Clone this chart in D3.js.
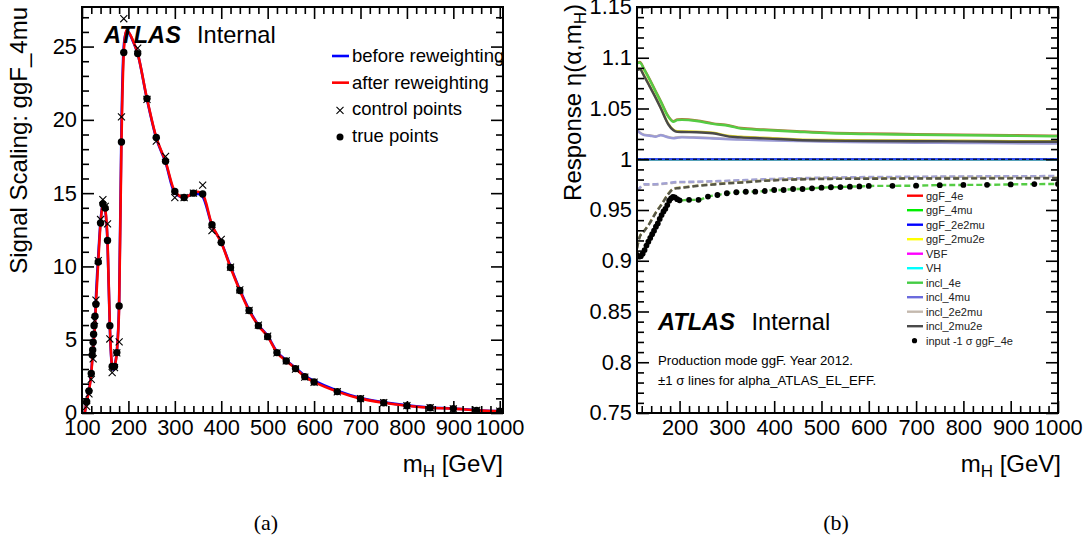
<!DOCTYPE html>
<html>
<head>
<meta charset="utf-8">
<script src="https://cdn.jsdelivr.net/npm/d3@7"></script>
<style>
  body { margin: 0; background: #fff; }
  svg { display: block; }
  text { font-family: "Liberation Sans", Arial, Helvetica, sans-serif; fill: #000; }
  text.serif { font-family: "Liberation Serif", "DejaVu Serif", serif; }
</style>
</head>
<body>
<svg id="fig" width="1092" height="546"></svg>
<script>
// ---------------- panel (a): signal scaling, ggF_4mu ----------------
const curveMass = [106,110,115,120,123,125,128,130,135,140,145,147,150,155,160,165,167.5,170,175,180,185,190,195,200,210,220,240,260,280,300,320,340,350,360,380,400,420,440,460,480,500,520,540,560,580,600,650,700,750,800,850,900,950,1000];
const afterReweighting = [0,0.77,1.5,2.7,4.0,4.85,6.0,7.42,10.3,12.96,14.26,14.4,13.98,11.77,5.96,3.17,3.0,3.17,4.12,7.3,18.49,24.6,26.1,26.0,25.4,24.52,21.45,18.8,17.17,15.12,14.7,15.0,15.1,14.94,12.84,11.63,9.93,8.36,6.99,5.96,5.21,4.12,3.55,3.03,2.48,2.12,1.46,0.98,0.70,0.50,0.36,0.30,0.18,0.12];
const beforeReweighting = [0,0.8,1.55,2.8,4.1,4.95,6.2,7.8,10.7,13.1,14.3,14.35,13.9,11.6,5.8,3.1,2.95,3.2,4.2,7.6,19.4,25.0,26.0,25.95,25.35,24.5,21.4,18.75,17.1,15.0,14.7,14.95,14.95,14.75,12.8,11.65,10.0,8.42,7.05,6.0,5.25,4.18,3.6,3.08,2.54,2.2,1.52,1.02,0.73,0.52,0.38,0.31,0.19,0.13];

const controlMass = [110,115,120,124,127,130,135,140,145,150,155,160,165,170,175,180,185,190,220,240,260,280,300,320,340,360,380,400,420,440,460,480,500,520,540,560,580,600,650,700,750,800,850,900,950,1000];
const controlValues = [0.45,1.3,2.3,3.7,6.3,7.7,10.4,13.2,14.55,14.1,12.9,5.05,2.75,3.1,4.1,4.85,20.2,26.9,24.9,21.4,18.55,17.5,14.7,14.7,15.0,15.55,12.45,11.85,9.95,8.4,7.0,6.0,5.25,4.1,3.55,3.0,2.45,2.1,1.45,0.98,0.7,0.5,0.36,0.28,0.18,0.12];

const trueMass = [110,115,120,122,123,124,125,126,128,130,135,140,145,150,155,160,165,170,175,180,185,190,220,240,260,280,300,320,340,360,380,400,420,440,460,480,500,520,540,560,580,600,650,700,750,800,850,900,950,1000];
const trueValues = [0.77,1.5,2.7,3.96,4.3,4.83,5.37,5.96,6.6,7.42,10.3,12.96,14.26,13.98,11.77,5.96,3.17,3.17,4.12,7.3,18.49,24.6,24.52,21.45,18.8,17.17,15.12,14.7,15.0,14.94,12.84,11.63,9.93,8.36,6.99,5.96,5.21,4.12,3.55,3.03,2.48,2.12,1.46,0.98,0.70,0.50,0.36,0.30,0.18,0.12];

const aXTicks = [100,200,300,400,500,600,700,800,900,1000];
const aYTicks = [0,5,10,15,20,25];
const aLegend = ["before reweighting","after reweighting","control points","true points"];

// ---------------- panel (b): response eta(alpha, mH) ----------------
const respMass = [110,116,125,137,150,160,176,187,195,205,236,270,305,330,377,448,518,600,700,800,900,1000];
const ggF4eUp      = [1.0951,1.0958,1.0891,1.0787,1.0666,1.0576,1.0426,1.0376,1.0391,1.0394,1.0383,1.0354,1.0334,1.0308,1.0294,1.0277,1.0262,1.0254,1.0248,1.0243,1.0237,1.0232];
const incl4eUp     = [1.0945,1.0952,1.0885,1.0781,1.0660,1.0570,1.0420,1.0370,1.0385,1.0388,1.0377,1.0348,1.0328,1.0302,1.0288,1.0271,1.0256,1.0248,1.0242,1.0237,1.0231,1.0226];
const ggF2mu2eUp   = [1.0885,1.0892,1.0826,1.0721,1.0606,1.0511,1.0351,1.0291,1.0276,1.0274,1.0272,1.0262,1.0229,1.0221,1.0212,1.0196,1.0189,1.0186,1.0184,1.0182,1.0179,1.0178];
const incl2mu2eUp  = [1.0879,1.0886,1.0820,1.0715,1.0600,1.0505,1.0345,1.0285,1.0270,1.0268,1.0266,1.0256,1.0223,1.0215,1.0206,1.0190,1.0183,1.0180,1.0178,1.0176,1.0173,1.0172];
const incl2e2muUp  = [1.0292,1.0264,1.0242,1.0236,1.0226,1.0240,1.0219,1.0211,1.0216,1.0220,1.0216,1.0209,1.0201,1.0197,1.0191,1.0184,1.0177,1.0172,1.0167,1.0164,1.0161,1.0159];
const incl4muUp    = [1.0288,1.0260,1.0238,1.0232,1.0222,1.0236,1.0215,1.0207,1.0212,1.0216,1.0212,1.0205,1.0197,1.0193,1.0187,1.0180,1.0173,1.0168,1.0163,1.0160,1.0157,1.0155];
const incl2e2muDown= [0.9686,0.9716,0.9749,0.9749,0.9750,0.9754,0.9762,0.9769,0.9772,0.9773,0.9775,0.9780,0.9785,0.9790,0.9799,0.9809,0.9816,0.9821,0.9824,0.9827,0.9829,0.9831];
const incl4muDown  = [0.9690,0.9720,0.9753,0.9753,0.9754,0.9758,0.9766,0.9773,0.9776,0.9777,0.9779,0.9784,0.9789,0.9794,0.9803,0.9813,0.9820,0.9825,0.9828,0.9831,0.9833,0.9835];
const ggF2mu2eDown = [0.9124,0.9241,0.9294,0.9374,0.9479,0.9544,0.9659,0.9711,0.9718,0.9723,0.9740,0.9754,0.9767,0.9774,0.9790,0.9804,0.9810,0.9812,0.9814,0.9815,0.9816,0.9817];
const incl2mu2eDown= [0.9120,0.9237,0.9290,0.9370,0.9475,0.9540,0.9655,0.9707,0.9714,0.9719,0.9736,0.9750,0.9763,0.9770,0.9786,0.9800,0.9806,0.9808,0.9810,0.9811,0.9812,0.9813];
const nominalMass  = [110,1000];
const nominalValue = [1.0,1.0];

// -1 sigma input points for ggF_4e
const inputMass = [110,114,118,122,126,130,134,138,142,146,150,154,158,162,166,170,174,178,182,186,190,195,200,220,240,260,280,300,320,340,360,380,400,420,440,460,480,500,520,540,560,580,600,650,700,750,800,850,900,950,1000];
const inputDown = [0.9057,0.904,0.9045,0.907,0.9105,0.915,0.9188,0.9225,0.9262,0.9296,0.9336,0.9367,0.9412,0.945,0.9486,0.9512,0.9549,0.9592,0.9615,0.963,0.9625,0.9607,0.9595,0.96,0.96,0.9632,0.9648,0.9665,0.9675,0.968,0.9681,0.9687,0.9697,0.9697,0.9707,0.9707,0.9714,0.972,0.9724,0.9726,0.973,0.9732,0.9737,0.9738,0.974,0.9745,0.9747,0.9748,0.9752,0.9755,0.9756];

const bXTicks = [200,300,400,500,600,700,800,900,1000];
const bYTicks = [0.75,0.8,0.85,0.9,0.95,1.0,1.05,1.1,1.15];
const bYTickLabels = ["0.75","0.8","0.85","0.9","0.95","1","1.05","1.1","1.15"];
const bLegendNames  = ["ggF_4e","ggF_4mu","ggF_2e2mu","ggF_2mu2e","VBF","VH","incl_4e","incl_4mu","incl_2e2mu","incl_2mu2e"];
const bLegendColors = ["#ff0000","#00ee00","#0000ff","#ffff00","#ff00ff","#00ffff","#44cc44","#6b6bdd","#c4b9ae","#4a4a4a"];
const bInputLabel = "input -1 σ ggF_4e";

const svg = d3.select("#fig");

// frame with inward ticks on all four sides, labels on bottom and left
function drawFrame(g, x, y, xMajor, xMinor, yMajor, yMinor, yFmt) {
  const [x0, x1] = x.range();
  const [yb, yt] = y.range();
  const styleTicks = (sel, labels) => {
    sel.select(".domain").remove();
    sel.selectAll(".tick line").attr("stroke", "#000").attr("stroke-width", 1.6);
    sel.selectAll(".tick text").attr("font-size", 21.8).attr("fill", "#000");
    if (!labels) sel.selectAll(".tick text").remove();
  };
  const add = (axis, t, labels) => g.append("g").attr("transform", t).call(axis).call(s => styleTicks(s, labels));
  // bottom
  add(d3.axisBottom(x).tickValues(xMajor).tickSize(-12).tickPadding(7).tickFormat(d3.format("d")), `translate(0,${yb})`, true);
  add(d3.axisBottom(x).tickValues(xMinor).tickSize(-7).tickFormat(""), `translate(0,${yb})`, false);
  // top
  add(d3.axisTop(x).tickValues(xMajor).tickSize(-12).tickFormat(""), `translate(0,${yt})`, false);
  add(d3.axisTop(x).tickValues(xMinor).tickSize(-7).tickFormat(""), `translate(0,${yt})`, false);
  // left
  add(d3.axisLeft(y).tickValues(yMajor).tickSize(-12).tickPadding(5).tickFormat(yFmt), `translate(${x0},0)`, true);
  add(d3.axisLeft(y).tickValues(yMinor).tickSize(-7).tickFormat(""), `translate(${x0},0)`, false);
  // right
  add(d3.axisRight(y).tickValues(yMajor).tickSize(-12).tickFormat(""), `translate(${x1},0)`, false);
  add(d3.axisRight(y).tickValues(yMinor).tickSize(-7).tickFormat(""), `translate(${x1},0)`, false);
  g.append("rect").attr("x", x0).attr("y", yt).attr("width", x1 - x0).attr("height", yb - yt)
    .attr("fill", "none").attr("stroke", "#000").attr("stroke-width", 2);
}

function clip(id, x, y) {
  svg.append("clipPath").attr("id", id).append("rect")
    .attr("x", x.range()[0]).attr("y", y.range()[1])
    .attr("width", x.range()[1] - x.range()[0]).attr("height", y.range()[0] - y.range()[1]);
}

// ================= panel (a) =================
{
  const x = d3.scaleLinear().domain([100, 1007]).range([82, 503]);
  const y = d3.scaleLinear().domain([0, 27.7]).range([413, 7]);
  clip("clipA", x, y);
  const g = svg.append("g");
  const plot = g.append("g").attr("clip-path", "url(#clipA)");

  const line = vals => d3.line().curve(d3.curveMonotoneX)
      .x((d, i) => x(curveMass[i])).y(d => y(d))(vals);
  plot.append("path").attr("d", line(beforeReweighting)).attr("fill", "none")
      .attr("stroke", "#0000ff").attr("stroke-width", 2.6);
  plot.append("path").attr("d", line(afterReweighting)).attr("fill", "none")
      .attr("stroke", "#ff0000").attr("stroke-width", 2.6);

  const cross = d3.symbol().type(d3.symbolX).size(34);
  plot.selectAll("path.ctrl").data(controlMass).join("path").attr("class", "ctrl")
      .attr("d", cross).attr("transform", (d, i) => `translate(${x(d)},${y(controlValues[i])})`)
      .attr("fill", "none").attr("stroke", "#000").attr("stroke-width", 1.1);
  plot.selectAll("circle.true").data(trueMass).join("circle").attr("class", "true")
      .attr("cx", d => x(d)).attr("cy", (d, i) => y(trueValues[i])).attr("r", 3.7).attr("fill", "#000");

  const minorX = d3.range(100, 1001, 20).filter(v => v % 100 !== 0);
  const minorY = d3.range(0, 28, 1).filter(v => v % 5 !== 0);
  drawFrame(g, x, y, aXTicks, minorX, aYTicks, minorY, d3.format("d"));

  // axis titles
  g.append("text").attr("transform", "translate(27,7) rotate(-90)").attr("text-anchor", "end")
    .attr("font-size", 24).text("Signal Scaling: ggF_4mu");
  const xt = g.append("text").attr("x", 503).attr("y", 472).attr("text-anchor", "end").attr("font-size", 24);
  xt.append("tspan").text("m");
  xt.append("tspan").attr("font-size", 17).attr("dy", 5).text("H");
  xt.append("tspan").attr("dy", -5).text(" [GeV]");

  // ATLAS label
  g.append("text").attr("x", 104).attr("y", 43).attr("font-size", 23.6).attr("font-weight", "bold")
    .attr("font-style", "italic").text("ATLAS");
  g.append("text").attr("x", 197).attr("y", 43).attr("font-size", 23.6).text("Internal");

  // legend
  const ly = d3.scalePoint().domain(aLegend).range([56, 136]);
  const lg = g.append("g");
  lg.append("line").attr("x1", 332).attr("x2", 349).attr("y1", ly(aLegend[0])).attr("y2", ly(aLegend[0]))
    .attr("stroke", "#0000ff").attr("stroke-width", 2.6);
  lg.append("line").attr("x1", 332).attr("x2", 349).attr("y1", ly(aLegend[1])).attr("y2", ly(aLegend[1]))
    .attr("stroke", "#ff0000").attr("stroke-width", 2.6);
  lg.append("path").attr("d", cross).attr("transform", `translate(340,${ly(aLegend[2]) + 1})`)
    .attr("fill", "none").attr("stroke", "#000").attr("stroke-width", 1.1);
  lg.append("circle").attr("cx", 340).attr("cy", ly(aLegend[3]) + 1).attr("r", 3.5).attr("fill", "#000");
  lg.selectAll("text").data(aLegend).join("text").attr("x", 352).attr("y", d => ly(d) + 6)
    .attr("font-size", 18.5).text(d => d);

  svg.append("text").attr("class", "serif").attr("x", 266).attr("y", 530).attr("text-anchor", "middle")
    .attr("font-size", 22).text("(a)");
}

// ================= panel (b) =================
{
  const x = d3.scaleLinear().domain([110, 1000]).range([637, 1058]);
  const y = d3.scaleLinear().domain([0.75, 1.15]).range([413, 7]);
  clip("clipB", x, y);
  const g = svg.append("g");
  const plot = g.append("g").attr("clip-path", "url(#clipB)");

  const line = (mass, vals) => d3.line().curve(d3.curveMonotoneX)
      .x((d, i) => x(mass[i])).y(d => y(d))(vals);
  const draw = (mass, vals, color, dashed, w) => plot.append("path").attr("d", line(mass, vals))
      .attr("fill", "none").attr("stroke", color).attr("stroke-width", w || 2.4)
      .attr("stroke-dasharray", dashed ? "6,3" : null);

  // +1 sigma curves
  draw(respMass, incl2e2muUp, "#c4b9ae");
  draw(respMass, incl4muUp, "#9a9ad6");
  draw(respMass, ggF2mu2eUp, "#d8d020");
  draw(respMass, incl2mu2eUp, "#4a4a4a");
  draw(respMass, ggF4eUp, "#b07a40");
  draw(respMass, incl4eUp, "#55cc44");
  // nominal
  draw(nominalMass, nominalValue, "#00ee00", false, 2.4);
  draw(nominalMass, nominalValue, "#2d4cf0", false, 2.4);
  draw(nominalMass, nominalValue, "#000", false, 1.1).attr("stroke-dasharray", "4,3");
  // -1 sigma curves
  draw(respMass, incl2e2muDown, "#c4b9ae", true);
  draw(respMass, incl4muDown, "#a2a2d4", true);
  draw(respMass, ggF2mu2eDown, "#a8a050", true);
  draw(respMass, incl2mu2eDown, "#555548", true);
  draw(inputMass, inputDown, "#55cc44", true);

  plot.selectAll("circle.inp").data(inputMass).join("circle").attr("class", "inp")
      .attr("cx", d => x(d)).attr("cy", (d, i) => y(inputDown[i])).attr("r", 2.9).attr("fill", "#000");

  const minorX = d3.range(120, 1001, 20).filter(v => v % 100 !== 0);
  const minorY = d3.range(75, 116, 1).filter(v => v % 5 !== 0).map(v => v / 100);
  drawFrame(g, x, y, bXTicks, minorX, bYTicks, minorY, (d, i) => bYTickLabels[i]);

  // axis titles
  const yt = g.append("text").attr("transform", "translate(581,4) rotate(-90)").attr("text-anchor", "end")
    .attr("font-size", 24);
  yt.append("tspan").text("Response η(α,m");
  yt.append("tspan").attr("font-size", 17).attr("dy", 5).text("H");
  yt.append("tspan").attr("dy", -5).text(")");
  const xt = g.append("text").attr("x", 1061).attr("y", 472).attr("text-anchor", "end").attr("font-size", 24);
  xt.append("tspan").text("m");
  xt.append("tspan").attr("font-size", 17).attr("dy", 5).text("H");
  xt.append("tspan").attr("dy", -5).text(" [GeV]");

  // ATLAS label and notes
  g.append("text").attr("x", 658).attr("y", 330).attr("font-size", 23.6).attr("font-weight", "bold")
    .attr("font-style", "italic").text("ATLAS");
  g.append("text").attr("x", 751.5).attr("y", 330).attr("font-size", 23.6).text("Internal");
  g.append("text").attr("x", 658).attr("y", 365).attr("font-size", 13.2).text("Production mode ggF. Year 2012.");
  g.append("text").attr("x", 658).attr("y", 385).attr("font-size", 13.2).text("±1 σ lines for alpha_ATLAS_EL_EFF.");

  // legend
  const ly = d3.scalePoint().domain(bLegendNames.concat([bInputLabel])).range([195.7, 340.7]);
  const lg = g.append("g");
  lg.selectAll("line").data(bLegendNames).join("line")
    .attr("x1", 907).attr("x2", 923).attr("y1", d => ly(d)).attr("y2", d => ly(d))
    .attr("stroke", (d, i) => bLegendColors[i]).attr("stroke-width", 2.4);
  lg.append("circle").attr("cx", 914.5).attr("cy", ly(bInputLabel)).attr("r", 2.6).attr("fill", "#000");
  lg.selectAll("text").data(bLegendNames.concat([bInputLabel])).join("text")
    .attr("x", 926).attr("y", d => ly(d) + 4).attr("font-size", 11).style("fill", "#222").text(d => d);

  svg.append("text").attr("class", "serif").attr("x", 836).attr("y", 530).attr("text-anchor", "middle")
    .attr("font-size", 22).text("(b)");
}
</script>
</body>
</html>
